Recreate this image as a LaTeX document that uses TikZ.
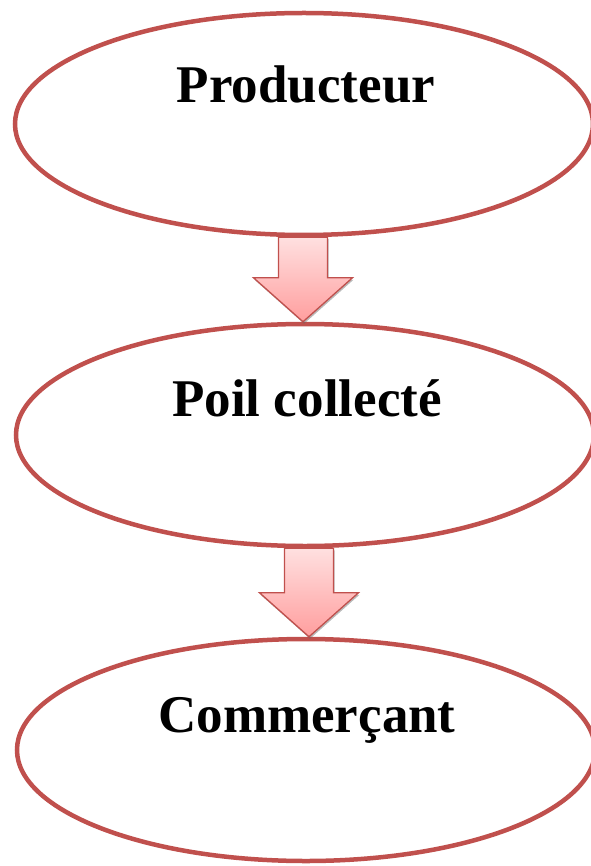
\documentclass[tikz,border=0pt]{standalone}
\usepackage{fontspec}
\setmainfont{Liberation Serif}
\usetikzlibrary{calc}
\usetikzlibrary{shapes.geometric}
\usetikzlibrary{shadows}
\definecolor{bord}{RGB}{192,80,77}
\definecolor{roseHaut}{RGB}{255,224,224}
\definecolor{roseBas}{RGB}{255,158,158}
\tikzset{
  etape/.style={draw=bord,line width=4.5pt,ellipse,inner sep=0pt,
    minimum width=578pt,minimum height=222pt},
  titre/.style={anchor=base,font=\bfseries\fontsize{53}{60}\selectfont},
  fleche/.style={draw=bord,line width=1.3pt,line join=miter,
    top color=roseHaut,bottom color=roseBas,
    drop shadow={shadow xshift=1pt,shadow yshift=-2pt,opacity=0.45,fill=black!60}}
}
% #1 = node above, #2 = node below, #3 = horizontal offset
\newcommand\blocfleche[3]{%
  \path[fleche] ($(#1.south -| #2.north)+(#3-24.5,0)$) -- ($(#1.south -| #2.north)+(#3+24.5,0)$)
    -- ($(#2.north)+(#3+24.5,44)$) -- ($(#2.north)+(#3+49.5,44)$)
    -- ($(#2.north)+(#3,0)$) -- ($(#2.north)+(#3-49.5,44)$)
    -- ($(#2.north)+(#3-24.5,44)$) -- cycle;}
\begin{document}
\begin{tikzpicture}[x=1pt,y=1pt]
\useasboundingbox (0,0) rectangle (590,-866);
\node[etape] (prod) at (304,-124) {};
\node[etape] (poil) at (305,-435) {};
\node[etape] (comm) at (306,-750) {};
\node[titre] (tprod) at ($(prod.center)+(2,21)$) {Producteur};
\node[titre] (tpoil) at ($(poil.center)+(2,19)$) {Poil collecté};
\node[titre] (tcomm) at ($(comm.center)+(1,18)$) {Commerçant};
\blocfleche{prod}{poil}{-2}
\blocfleche{poil}{comm}{3}
\end{tikzpicture}
\end{document}
